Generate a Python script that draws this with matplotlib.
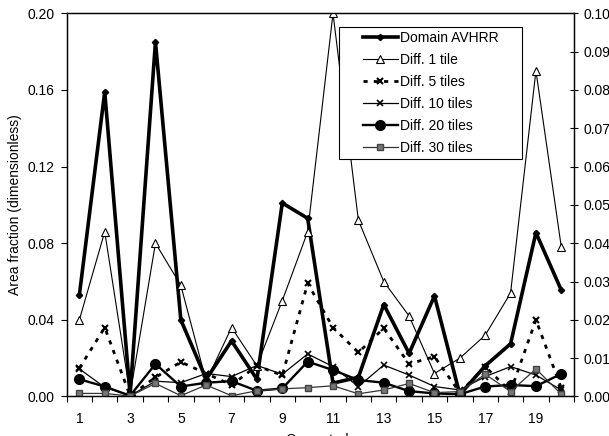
import matplotlib
matplotlib.use("Agg")
import matplotlib.pyplot as plt
from matplotlib.ticker import FormatStrFormatter, FixedLocator
from matplotlib.patches import Rectangle

plt.rcParams['font.family'] = ['Liberation Sans', 'DejaVu Sans']

cases = list(range(1, 21))

domain_avhrr = [0.053, 0.159, 0.001, 0.185, 0.040, 0.009, 0.029, 0.009, 0.101, 0.093,
                0.007, 0.010, 0.048, 0.0225, 0.0525, 0.001, 0.016, 0.0275, 0.0855, 0.0555]
diff_1 = [0.020, 0.043, 0.0005, 0.040, 0.029, 0.004, 0.018, 0.008, 0.025, 0.043,
          0.100, 0.046, 0.030, 0.021, 0.006, 0.010, 0.016, 0.027, 0.085, 0.039]
diff_5 = [0.0074, 0.018, 0.0002, 0.005, 0.009, 0.006, 0.003, 0.008, 0.0055, 0.0295,
          0.018, 0.0115, 0.0178, 0.0085, 0.0104, 0.001, 0.0078, 0.0013, 0.020, 0.0022]
diff_10 = [0.0072, 0.0024, 0.0002, 0.004, 0.0036, 0.006, 0.0052, 0.0081, 0.0058, 0.0111,
           0.0078, 0.0026, 0.0082, 0.0056, 0.0026, 0.0017, 0.0052, 0.0078, 0.0056, 0.0017]
diff_20 = [0.0045, 0.0026, 0.0002, 0.0085, 0.0026, 0.0036, 0.004, 0.0015, 0.0021, 0.0091,
           0.0069, 0.0043, 0.0036, 0.0014, 0.0008, 0.0006, 0.0026, 0.003, 0.0027, 0.0059]
diff_30 = [0.0008, 0.0008, 0.0001, 0.0034, 0.0002, 0.003, 0.0002, 0.0015, 0.002, 0.0023,
           0.0028, 0.0007, 0.0017, 0.0034, 0.001, 0.0013, 0.0058, 0.0013, 0.0072, 0.0006]

left_ticks = [0.00, 0.04, 0.08, 0.12, 0.16, 0.20]
right_ticks = [0.00, 0.01, 0.02, 0.03, 0.04, 0.05, 0.06, 0.07, 0.08, 0.09, 0.10]
x_label_ticks = [1, 3, 5, 7, 9, 11, 13, 15, 17, 19]

fig = plt.figure(figsize=(6.09, 4.36), dpi=100)
ax1 = fig.add_axes([0.1095, 0.0906, 0.8330, 0.8789])
ax2 = ax1.twinx()

l0, = ax1.plot(cases, domain_avhrr, color='black', lw=2.6, marker='D', ms=3.2,
               label='Domain AVHRR', zorder=3)
l1, = ax2.plot(cases, diff_1, color='black', lw=0.8, marker='^', ms=5.5,
               mfc='white', mec='black', mew=0.8, label='Diff. 1 tile')
l2, = ax2.plot(cases, diff_5, color='black', lw=2.0, dashes=(1.5, 2.2), marker='x',
               ms=5, mew=1.5, label='Diff. 5 tiles')
l3, = ax2.plot(cases, diff_10, color='black', lw=0.9, marker='x', ms=4, mew=1.2,
               label='Diff. 10 tiles')
l4, = ax2.plot(cases, diff_20, color='black', lw=1.7, marker='o', ms=7,
               label='Diff. 20 tiles')
l5, = ax2.plot(cases, diff_30, color='#333333', lw=0.9, marker='s', ms=4.5,
               mfc='#777777', mec='#444444', label='Diff. 30 tiles')

ax1.set_xlim(0.5, 20.5)
ax1.set_ylim(0, 0.20)
ax2.set_ylim(0, 0.10)

ax1.xaxis.set_major_locator(FixedLocator(x_label_ticks))
ax1.xaxis.set_minor_locator(FixedLocator([i + 0.5 for i in range(0, 21)]))
ax1.tick_params(axis='x', which='major', length=0, pad=11, labelsize=10)
ax1.tick_params(axis='x', which='minor', length=4, direction='out', width=0.8)

ax1.yaxis.set_major_locator(FixedLocator(left_ticks))
ax1.yaxis.set_major_formatter(FormatStrFormatter('%.2f'))
ax1.tick_params(axis='y', which='major', length=4, direction='out', pad=5, labelsize=10, width=0.8)

ax2.yaxis.set_major_locator(FixedLocator(right_ticks))
ax2.yaxis.set_major_formatter(FormatStrFormatter('%.2f'))
ax2.tick_params(axis='y', which='major', length=6, direction='inout', pad=4, labelsize=10, width=0.8)

for ax in (ax1, ax2):
    for s in ax.spines.values():
        s.set_linewidth(0.9)
        s.set_color('black')

ax1.set_ylabel('Area fraction (dimensionless)', fontsize=10, labelpad=4)
ax1.set_xlabel('Case study', fontsize=10, labelpad=5)

# legend box (opaque, square corners)
box = Rectangle((0.537, 0.620), 0.3605, 0.344, transform=ax2.transAxes,
                facecolor='white', edgecolor='black', lw=0.8, zorder=4)
ax2.add_patch(box)

leg = ax2.legend(handles=[l0, l1, l2, l3, l4, l5], loc='upper left',
                 bbox_to_anchor=(0.584, 0.953), borderaxespad=0, fontsize=10,
                 frameon=False, handlelength=2.5, handletextpad=0.15,
                 labelspacing=0.57, borderpad=0)
leg.set_zorder(5)

fig.savefig('out.png', dpi=100)
